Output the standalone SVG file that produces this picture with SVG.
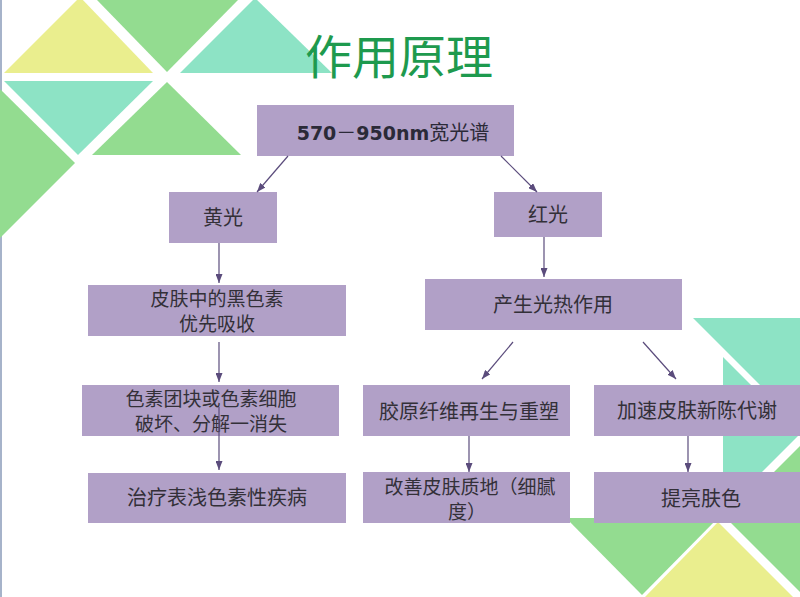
<svg xmlns="http://www.w3.org/2000/svg" width="800" height="597" viewBox="0 0 800 597">
<style>
.y{fill:#eaee8e}.g{fill:#93dc90}.t{fill:#8de3c5}
.box{fill:#b1a0c7}
.lbl{font-family:"Noto Sans CJK SC","Noto Sans",sans-serif;font-size:20px;fill:#333038;text-anchor:middle}
.l2{font-size:19px}
.edge{stroke:#5b4c7c;stroke-width:1.2;fill:none;marker-end:url(#ah)}
</style>
<defs>
<marker id="ah" markerUnits="userSpaceOnUse" markerWidth="9" markerHeight="7" refX="9" refY="3.5" orient="auto">
<path d="M0,0 L9,3.5 L0,7 z" fill="#5b4c7c"/>
</marker>
</defs>
<rect width="800" height="597" fill="#ffffff"/>
<line x1="1" y1="0" x2="1" y2="597" stroke="#a6b3ca" stroke-width="2"/>
<g id="decor">
<polygon class="y" points="4,73 80,-3 153,73"/>
<polygon class="g" points="97,0 238,0 167,72"/>
<polygon class="t" points="180,73 255,-2 332,73"/>
<polygon class="t" points="4,81 153,81 78,155"/>
<polygon class="g" points="92,155 167,82 241,155"/>
<polygon class="g" points="0,89 75,163 0,238"/>
<polygon class="t" points="693,318 800,318 800,425"/>
<polygon class="t" points="723,357 800,434 723,511"/>
<polygon class="g" points="727,519 800,446 800,592"/>
<polygon class="g" points="566,518 718,518 642,595"/>
<polygon class="y" points="718,522 645,597 793,597"/>
</g>
<text x="399" y="74" font-family="'Noto Sans CJK SC','Noto Sans',sans-serif" font-size="47" fill="#1e9a4e" text-anchor="middle">作用原理</text>
<g id="n1"><rect class="box" x="257" y="105" width="257" height="51"/>
<text x="393" y="140" text-anchor="middle" font-family="'DejaVu Sans','Noto Sans CJK SC',sans-serif" font-size="19" fill="#2b2a38"><tspan font-weight="bold">570</tspan><tspan font-family="'Noto Sans CJK SC',sans-serif" font-size="20">－</tspan><tspan font-weight="bold">950nm</tspan><tspan font-family="'Noto Sans CJK SC',sans-serif" font-size="20">宽光谱</tspan></text></g>
<g id="n2"><rect class="box" x="169" y="192" width="108" height="51"/><text class="lbl" x="223" y="225">黄光</text></g>
<g id="n3"><rect class="box" x="494" y="192" width="108" height="45"/><text class="lbl" x="548" y="222">红光</text></g>
<g id="n4"><rect class="box" x="88" y="285" width="258" height="51"/><text class="lbl l2" x="217" y="306">皮肤中的黑色素</text><text class="lbl l2" x="217" y="331">优先吸收</text></g>
<g id="n5"><rect class="box" x="82" y="385" width="257" height="51"/><text class="lbl l2" x="211" y="406">色素团块或色素细胞</text><text class="lbl l2" x="211" y="431">破坏、分解一消失</text></g>
<g id="n6"><rect class="box" x="88" y="473" width="258" height="50"/><text class="lbl" x="217" y="505">治疗表浅色素性疾病</text></g>
<g id="n7"><rect class="box" x="425" y="279" width="257" height="51"/><text class="lbl" x="553" y="312">产生光热作用</text></g>
<g id="n8"><rect class="box" x="363" y="385" width="207" height="51"/><text class="lbl" x="469" y="419">胶原纤维再生与重塑</text></g>
<g id="n9"><rect class="box" x="594" y="385" width="206" height="51"/><text class="lbl" x="697" y="418">加速皮肤新陈代谢</text></g>
<g id="n10"><rect class="box" x="363" y="472" width="207" height="51"/><text class="lbl l2" x="470" y="494">改善皮肤质地（细腻</text><text class="lbl l2" x="467" y="519">度）</text></g>
<g id="n11"><rect class="box" x="594" y="472" width="206" height="51"/><text class="lbl" x="701" y="506">提亮肤色</text></g>
<g id="connectors">
<line class="edge" x1="288" y1="156" x2="257" y2="192"/>
<line class="edge" x1="501" y1="156" x2="537" y2="192"/>
<line class="edge" x1="219" y1="243" x2="219" y2="283"/>
<line class="edge" x1="219" y1="342" x2="219" y2="382"/>
<line class="edge" x1="219" y1="407" x2="219" y2="470"/>
<line class="edge" x1="544" y1="237" x2="544" y2="277"/>
<line class="edge" x1="513" y1="342" x2="482" y2="379"/>
<line class="edge" x1="643" y1="342" x2="676" y2="379"/>
<line class="edge" x1="469" y1="436" x2="469" y2="472"/>
<line class="edge" x1="688" y1="436" x2="688" y2="472"/>
</g>
</svg>
